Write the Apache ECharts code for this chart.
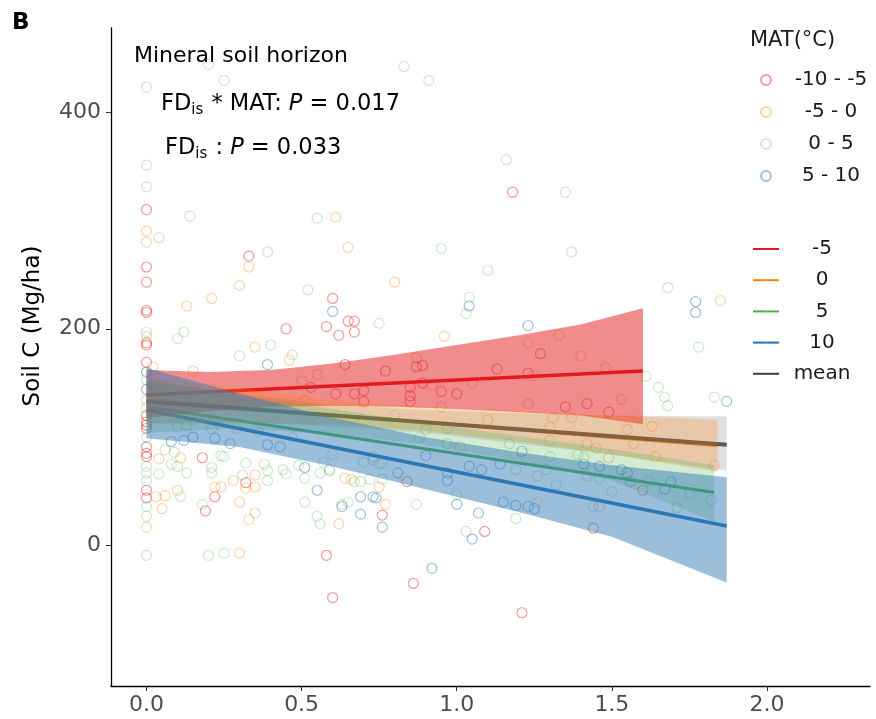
<!DOCTYPE html>
<html>
<head>
<meta charset="utf-8">
<script src="https://cdn.jsdelivr.net/npm/echarts@6/dist/echarts.min.js"></script>
<style>
html,body{margin:0;padding:0;background:#fff;}
#chart{width:876px;height:719px;}
</style>
</head>
<body>
<div id="chart"></div>
<script>
// ---------- data ----------
const xTicks = [0, 0.5, 1, 1.5, 2];
const yTicks = [0, 200, 400];
const groupNames = ['-10 - -5', '-5 - 0', '0 - 5', '5 - 10'];
const lineNames = ['-5', '0', '5', '10', 'mean'];

const ptsRed = [[0,310],[0,257],[0,243],[0,217],[0,215],[0,187],[0,185],[0,169],[0,120],[0,114],[0,111],[0,108],[0,91],[0,85],[0,82],[0,51],[0,44],
[0.33,267],[0.60,228],[0.65,207],[0.67,207],[0.58,202],[0.67,197],[0.62,194],[0.45,200],[0.53,146],[0.64,167],[0.61,140],[0.67,140],[0.70,143],[0.70,133],
[0.18,81],[0.32,58],[0.22,45],[0.19,32],[0.58,-9],[0.60,-48],
[1.27,177],[0.87,165],[0.89,166],[0.77,161],[1.13,163],[1.23,159],[0.89,150],[0.85,146],[0.85,138],[0.85,133],[0.95,142],[1.00,140],[1.35,128],[1.49,123],[1.42,131],
[0.84,59],[0.76,28],[1.09,13],[0.86,-35],[1.44,16],[1.18,326],[1.21,-62],[1.60,51]];

const ptsOrange = [[0,290],[0,280],[0,193],[0,134],[0,17],[0.02,165],[0.15,161],[0.33,257],[0.30,240],[0.21,228],[0.13,221],[0.61,303],[0.65,275],[0.35,183],[0.46,171],[0.50,152],[0.55,158],[0.51,134],
[0.04,80],[0.11,81],[0.35,65],[0.28,60],[0.32,53],[0.35,54],[0.22,54],[0.24,54],[0.10,51],[0.03,45],[0.06,46],[0.05,34],[0.30,40],[0.35,30],[0.33,24],[0.62,20],[0.64,62],[0.66,61],[0.30,-7],
[0.96,193],[1.33,194],[1.23,187],[1.40,175],[1.48,164],[1.53,135],[0.87,173],[1.25,157],[1.05,150],[0.95,128],[1.23,131],[1.31,118],[1.37,118],[1.30,109],[1.42,94],[1.45,90],[1.49,81],[1.26,40],[1.46,36],[0.75,54],[0.77,38],[1.01,91],[0.80,243],[0.92,148],[1.85,226],[1.63,110],[1.55,107],[1.57,94],[1.64,82],[1.83,74],[1.10,116]];

const ptsGreen = [[0,423],[0,351],[0,331],[0.14,304],[0.04,284],[0.39,271],[0.55,302],[0.52,236],[0,197],[0.12,197],[0.10,191],[0.40,185],[0.30,175],[0.47,176],[0,153],[0,127],[0,100],[0,73],[0,67],[0,60],[0,36],[0,27],[0,-9],
[0.06,88],[0.09,86],[0.08,75],[0.10,73],[0.04,66],[0.13,67],[0.24,83],[0.25,82],[0.32,76],[0.21,72],[0.21,67],[0.38,75],[0.39,69],[0.44,70],[0.45,66],[0.49,74],[0.31,65],[0.39,60],[0.56,67],[0.59,69],[0.51,62],[0.11,45],[0.18,38],[0.51,40],[0.55,27],[0.56,20],[0.65,40],[0.63,38],[0.67,59],[0.69,59],[0.72,61],[0.20,-9],[0.25,-7],
[0.20,444],[0.25,429],[0.83,442],[0.91,429],[1.16,356],[1.35,326],[0.95,274],[1.37,271],[1.10,254],[1.68,238],[1.04,229],[1.03,214],[0.75,205],
[1.30,97],[1.30,82],[1.39,84],[1.41,81],[1.19,70],[1.26,64],[1.29,70],[1.42,64],[1.46,62],[1.50,50],[1.32,56],[1.44,36],[0.76,61],[0.87,38],[1.00,47],[1.03,13],[1.19,25],[0.97,94],[0.90,107],[0.88,100],[1.17,94],[0.97,108],[0.80,120],[0.75,75],[0.73,82],[0.70,77],[0.73,79],[0.76,76],
[1.78,183],[1.61,156],[1.65,146],[1.67,137],[1.68,129],[1.83,137],[1.75,48],[1.82,42],[1.71,35],[1.62,60],
[0.10,110],[0.13,111],[0.21,108],[0.29,108],[0.36,105],[0.47,100],[0.60,84],[0.59,70],[0.57,77]];

const ptsBlue = [[0,160],[0,144],[0.60,216],[0.39,167],[0.08,96],[0.12,97],[0.51,72],[0.55,51],[0.63,36],[0.69,29],[0.15,100],[0.22,99],[0.27,94],[0.39,93],[0.43,91],
[1.21,87],[1.41,75],[1.46,73],[1.53,70],[1.55,67],[1.15,40],[1.19,37],[1.23,36],[1.25,34],[0.90,83],[0.81,67],[0.74,44],[0.76,17],[0.97,67],[0.97,60],[1.00,38],[1.07,30],[1.05,6],[0.92,-21],[1.04,73],[1.08,70],[1.14,75],[1.04,221],[1.23,203],[1.77,225],[1.77,215],[1.87,133],[1.69,59],[1.67,52],[1.56,59],[0.69,45],[0.73,45]];

// regression lines (end points)
const meanLineX = [0, 1.87],  meanLineY = [133, 93];
const redLineX = [0, 1.6],    redLineY = [139, 161];
const orangeLineX = [0, 1.84], orangeLineY = [134, 92];
const greenLineX = [0, 1.83], greenLineY = [128, 49];
const blueLineX = [0, 1.87],  blueLineY = [125, 18];

// confidence bands
const meanBandX = [0, 0.3, 0.6, 0.9, 1.2, 1.5, 1.87];
const meanBandLo = [113, 114, 110, 104, 94, 84, 69];
const meanBandHi = [153, 140, 130, 125, 122, 120, 119];
const redBandX = [0, 0.2, 0.4, 0.6, 0.8, 1.0, 1.2, 1.4, 1.6];
const redBandLo = [118, 124, 128, 129, 128, 126, 123, 120, 112];
const redBandHi = [162, 160, 162, 168, 176, 185, 194, 204, 219];
const orangeBandX = [0, 0.3, 0.6, 0.9, 1.2, 1.5, 1.84];
const orangeBandLo = [112, 113, 112, 106, 96, 84, 68];
const orangeBandHi = [156, 145, 134, 128, 124, 120, 116];
const greenBandX = [0, 0.3, 0.6, 0.9, 1.2, 1.5, 1.83];
const greenBandLo = [104, 108, 103, 93, 78, 60, 22];
const greenBandHi = [152, 138, 126, 113, 101, 89, 74];
const blueBandX = [0, 0.3, 0.6, 0.9, 1.2, 1.5, 1.87];
const blueBandLo = [99, 91, 73, 52, 31, 8, -34];
const blueBandHi = [164, 140, 118, 100, 86, 74, 63];

// ---------- chart ----------
const FONT = '"DejaVu Sans", "Liberation Sans", Arial, sans-serif';
const chart = echarts.init(document.getElementById('chart'), null, {renderer: 'canvas'});

function pairs(xs, ys) { return xs.map((x, i) => [x, ys[i]]); }

function band(xs, lo, hi, color, opacity, z) {
  return {
    type: 'custom', z: z,
    silent: true,
    data: xs.map((x, i) => [x, lo[i], hi[i]]),
    encode: {x: 0, y: [1, 2]},
    renderItem: function (params, api) {
      if (params.dataIndex !== 0) return null;
      const p = [];
      for (let i = 0; i < xs.length; i++) p.push(api.coord([xs[i], hi[i]]));
      for (let i = xs.length - 1; i >= 0; i--) p.push(api.coord([xs[i], lo[i]]));
      return {type: 'polygon', shape: {points: p}, style: {fill: color, opacity: opacity}};
    }
  };
}

function line(name, xs, ys, color, legendColor, width, z) {
  return {
    type: 'line', name: name, data: pairs(xs, ys), z: z,
    symbol: 'none', showSymbol: false,
    lineStyle: {color: color, width: width},
    itemStyle: {color: legendColor},
    silent: true
  };
}

function scatter(name, pts, color) {
  return {
    type: 'scatter', name: name, data: pts, z: 1,
    symbol: 'circle', symbolSize: 10,
    itemStyle: {color: 'rgba(0,0,0,0)', borderColor: color, borderWidth: 1.2},
    silent: true
  };
}

const option = {
  animation: false,
  backgroundColor: '#fff',
  textStyle: {fontFamily: FONT},
  grid: {left: 111, right: 6, top: 28, bottom: 33, containLabel: false},
  xAxis: {
    type: 'value', min: -0.1144, max: 2.332,
    axisLine: {show: true, onZero: false, lineStyle: {color: '#000', width: 1.3}},
    axisTick: {show: true, customValues: xTicks, length: 5, lineStyle: {color: '#333'}},
    axisLabel: {customValues: xTicks, formatter: v => v.toFixed(1), color: '#4d4d4d', fontSize: 22, margin: 8, fontFamily: FONT},
    splitLine: {show: false}
  },
  yAxis: {
    type: 'value', min: -129.6, max: 477.5,
    axisLine: {show: true, onZero: false, lineStyle: {color: '#000', width: 1.3}},
    axisTick: {show: true, customValues: yTicks, length: 5, lineStyle: {color: '#333'}},
    axisLabel: {customValues: yTicks, formatter: v => String(v), color: '#4d4d4d', fontSize: 22, margin: 10, fontFamily: FONT},
    splitLine: {show: false}
  },
  legend: [
    {
      data: groupNames, orient: 'vertical', left: 755, top: 65,
      itemWidth: 10, itemHeight: 10, itemGap: 12, icon: 'circle',
      formatter: n => '{c|' + n + '}',
      textStyle: {rich: {c: {width: 110, align: 'center', fontSize: 20, lineHeight: 20, color: '#1a1a1a', fontFamily: FONT}}}
    },
    {
      data: lineNames, orient: 'vertical', left: 747, top: 234,
      itemWidth: 26, itemHeight: 2, itemGap: 11.2,
      lineStyle: {width: 2},
      formatter: n => '{c|' + n + '}',
      textStyle: {rich: {c: {width: 76, align: 'center', fontSize: 20, lineHeight: 20, color: '#1a1a1a', fontFamily: FONT}}}
    }
  ],
  graphic: [
    {type: 'text', left: 12, top: 12, style: {text: 'B', font: 'bold 23px ' + FONT, fill: '#000'}},
    {type: 'text', left: 750, top: 30, style: {text: 'MAT(°C)', font: '21px ' + FONT, fill: '#1a1a1a'}},
    {type: 'text', left: 134, top: 45, style: {text: 'Mineral soil horizon', font: '22px ' + FONT, fill: '#000'}},
    {type: 'text', left: 161, top: 93, style: {
      text: '{a|FD}{s|is}{a| * MAT: }{i|P}{a| = 0.017}',
      rich: {
        a: {fontSize: 22.5, fontFamily: FONT, color: '#000', lineHeight: 26, verticalAlign: 'top'},
        i: {fontSize: 22.5, fontFamily: FONT, fontStyle: 'italic', color: '#000', lineHeight: 26, verticalAlign: 'top'},
        s: {fontSize: 15, fontFamily: FONT, color: '#000', lineHeight: 18, padding: [10, 1, 0, 0], verticalAlign: 'top'}
      }
    }},
    {type: 'text', left: 165, top: 137, style: {
      text: '{a|FD}{s|is}{a| : }{i|P}{a| = 0.033}',
      rich: {
        a: {fontSize: 22.5, fontFamily: FONT, color: '#000', lineHeight: 26, verticalAlign: 'top'},
        i: {fontSize: 22.5, fontFamily: FONT, fontStyle: 'italic', color: '#000', lineHeight: 26, verticalAlign: 'top'},
        s: {fontSize: 15, fontFamily: FONT, color: '#000', lineHeight: 18, padding: [10, 1, 0, 0], verticalAlign: 'top'}
      }
    }},
    {type: 'text', x: 33, y: 326, rotation: Math.PI / 2,
      style: {text: 'Soil C (Mg/ha)', font: '23px ' + FONT, fill: '#000', textAlign: 'center', textVerticalAlign: 'middle'}}
  ],
  series: [
    scatter(groupNames[0], ptsRed, 'rgba(228,26,28,0.55)'),
    scatter(groupNames[1], ptsOrange, 'rgba(255,127,0,0.42)'),
    scatter(groupNames[2], ptsGreen, 'rgba(77,175,74,0.35)'),
    scatter(groupNames[3], ptsBlue, 'rgba(55,126,184,0.6)'),
    line('-5', redLineX, redLineY, '#E41A1C', '#E41A1C', 3.5, 2),
    line('0', orangeLineX, orangeLineY, '#FF7F00', '#FDAE61', 3, 2),
    line('5', greenLineX, greenLineY, '#4DAF4A', '#8fd18a', 3, 2),
    line('10', blueLineX, blueLineY, '#1f6fb4', '#5b9bd0', 3.5, 2),
    line('mean', meanLineX, meanLineY, '#3c3c3c', '#333333', 4, 3),
    band(meanBandX, meanBandLo, meanBandHi, '#999999', 0.3, 4),
    band(redBandX, redBandLo, redBandHi, '#E41A1C', 0.5, 5),
    band(orangeBandX, orangeBandLo, orangeBandHi, '#FF7F00', 0.25, 6),
    band(greenBandX, greenBandLo, greenBandHi, '#4DAF4A', 0.25, 7),
    band(blueBandX, blueBandLo, blueBandHi, '#377EB8', 0.5, 8)
  ]
};
chart.setOption(option);
</script>
</body>
</html>
